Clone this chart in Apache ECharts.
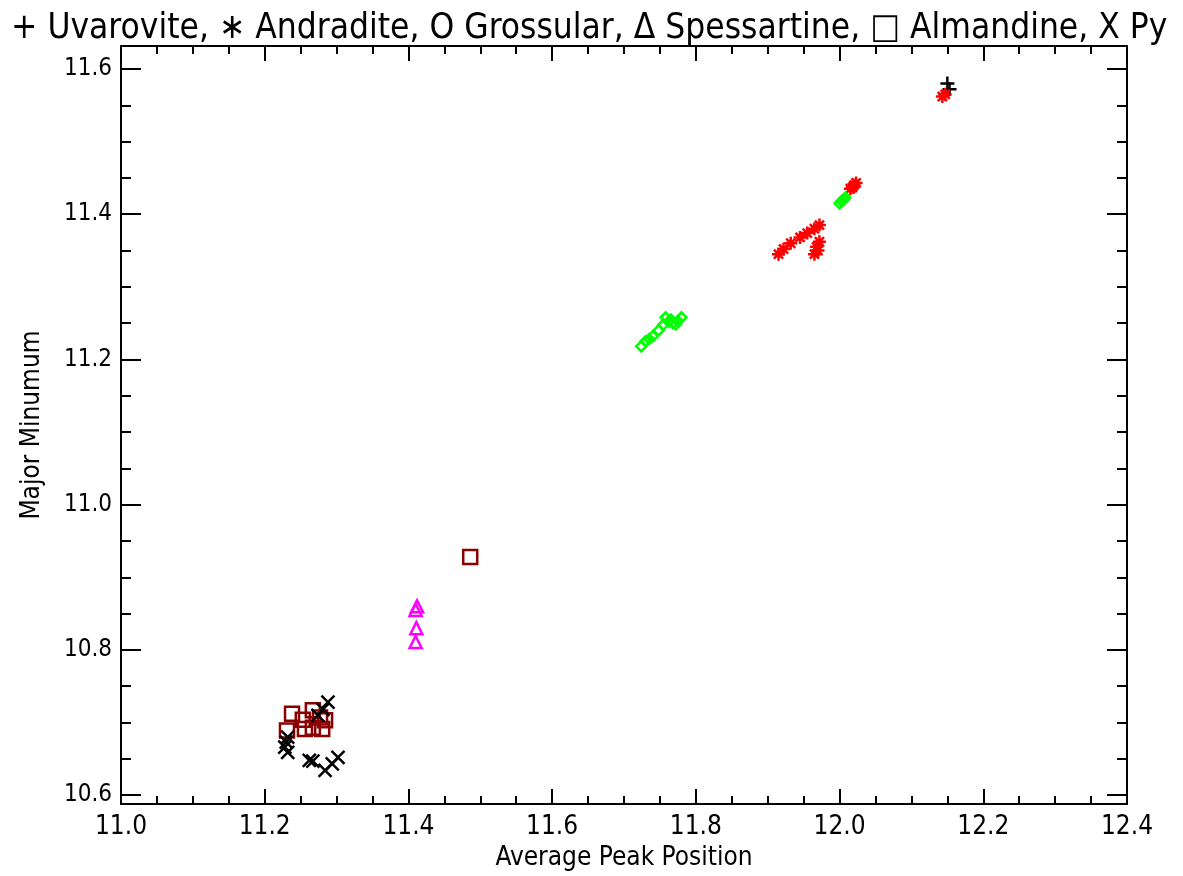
<!DOCTYPE html>
<html>
<head>
<meta charset="utf-8">
<script src="https://cdn.jsdelivr.net/npm/echarts@6/dist/echarts.min.js"></script>
<style>
  html, body { margin: 0; padding: 0; background: #ffffff; }
  #chart { width: 1183px; height: 876px; }
</style>
</head>
<body>
<div id="chart"></div>
<script>
// garnet data: [average peak position, major minimum]
const uvarovite = [[12.150, 11.580], [12.153, 11.572]];
const andradite = [
  [12.143, 11.562], [12.147, 11.565],
  [12.015, 11.435], [12.020, 11.440], [12.023, 11.443], [12.018, 11.437],
  [11.915, 11.345], [11.922, 11.352], [11.932, 11.360], [11.945, 11.368],
  [11.955, 11.374], [11.965, 11.380], [11.972, 11.385],
  [11.965, 11.345], [11.970, 11.350], [11.972, 11.362], [11.968, 11.355]
];
const grossular = [
  [11.724, 11.218], [11.730, 11.225], [11.735, 11.228], [11.740, 11.232],
  [11.748, 11.240], [11.755, 11.248], [11.758, 11.258], [11.762, 11.252],
  [11.768, 11.250], [11.772, 11.248], [11.775, 11.253], [11.780, 11.258],
  [11.765, 11.255],
  [12.000, 11.415], [12.003, 11.418], [12.006, 11.420], [12.008, 11.423]
];
const spessartine = [[11.410, 10.855], [11.412, 10.860], [11.411, 10.830], [11.410, 10.811]];
const almandine = [
  [11.486, 10.928],
  [11.238, 10.712], [11.231, 10.689], [11.253, 10.704], [11.256, 10.691],
  [11.267, 10.693], [11.280, 10.691], [11.267, 10.717], [11.277, 10.707],
  [11.284, 10.703]
];
const pyrope = [
  [11.288, 10.728], [11.281, 10.718], [11.274, 10.710],
  [11.232, 10.680], [11.230, 10.673], [11.228, 10.666], [11.232, 10.659],
  [11.262, 10.648], [11.267, 10.647], [11.284, 10.634], [11.294, 10.643],
  [11.302, 10.652]
];

const yMajor = [10.6, 10.8, 11.0, 11.2, 11.4, 11.6];
const yMinor = [10.65, 10.7, 10.75, 10.85, 10.9, 10.95, 11.05, 11.1, 11.15,
                11.25, 11.3, 11.35, 11.45, 11.5, 11.55];

const font = '"Liberation Sans Narrow", "DejaVu Sans Condensed", sans-serif';
const yMin = 10.5877, yMax = 11.6316;

const chart = echarts.init(document.getElementById('chart'));

function yAxisDef(pos, ticks, len, labels) {
  return {
    type: 'value', position: pos, min: yMin, max: yMax,
    axisLine: { show: true, lineStyle: { color: '#000', width: 2 } },
    axisTick: { show: true, inside: true, length: len, customValues: ticks,
                lineStyle: { color: '#000', width: 2 } },
    axisLabel: labels ? { show: true, customValues: ticks, color: '#000', fontSize: 24,
                          fontFamily: font, margin: 9, formatter: v => v.toFixed(1) }
                      : { show: false },
    splitLine: { show: false }
  };
}

function xAxisDef(pos, labels) {
  return {
    type: 'value', position: pos, min: 11.0, max: 12.4, interval: 0.2,
    axisLine: { show: true, lineStyle: { color: '#000', width: 2 } },
    axisTick: { show: true, inside: true, length: 15, lineStyle: { color: '#000', width: 2 } },
    minorTick: { show: true, splitNumber: 4, length: 8, lineStyle: { color: '#000', width: 2 } },
    axisLabel: labels ? { show: true, color: '#000', fontSize: 26, fontFamily: font, margin: 10,
                          formatter: v => v.toFixed(1) } : { show: false },
    splitLine: { show: false },
    minorSplitLine: { show: false }
  };
}

function sym(name, data, symbol, color, size) {
  return {
    name: name, type: 'scatter', data: data, symbol: symbol, symbolSize: size,
    itemStyle: { color: 'rgba(0,0,0,0)', borderColor: color, borderWidth: 2.5, opacity: 1 },
    emphasis: { disabled: true }
  };
}

const xBottom = xAxisDef('bottom', true);
xBottom.name = 'Average Peak Position';
xBottom.nameLocation = 'middle';
xBottom.nameGap = 40;
xBottom.nameTextStyle = { color: '#000', fontSize: 26, fontFamily: font };

const yLeft = yAxisDef('left', yMajor, 20, true);
yLeft.name = 'Major Minumum';
yLeft.nameLocation = 'middle';
yLeft.nameGap = 76;
yLeft.nameTextStyle = { color: '#000', fontSize: 26, fontFamily: font };

chart.setOption({
  backgroundColor: '#ffffff',
  animation: false,
  title: {
    text: '+ Uvarovite, \u2217 Andradite, O Grossular, \u0394 Spessartine, \u25A1 Almandine, X Py',
    left: 6, top: 6,
    textStyle: { color: '#000', fontSize: 35, fontWeight: 'normal', fontFamily: font }
  },
  grid: { left: 121, right: 56, top: 46, bottom: 69 },
  xAxis: [xBottom, xAxisDef('top', false)],
  yAxis: [
    yLeft,
    yAxisDef('left', yMinor, 10, false),
    yAxisDef('right', yMajor, 20, false),
    yAxisDef('right', yMinor, 10, false)
  ],
  series: [
    sym('Uvarovite', uvarovite, 'path://M0,5L10,5M5,0L5,10', '#000000', 14),
    sym('Andradite', andradite, 'path://M0,5L10,5M5,0L5,10M1.5,1.5L8.5,8.5M8.5,1.5L1.5,8.5', '#ff0000', 13),
    sym('Grossular', grossular, 'path://M5,0L10,5L5,10L0,5Z', '#00ff00', 10),
    sym('Spessartine', spessartine, 'path://M5,0L10,9L0,9Z', '#ff00ff', 12),
    sym('Almandine', almandine, 'path://M0,0L10,0L10,10L0,10Z', '#8b0000', 14),
    sym('Pyrope', pyrope, 'path://M0,0L10,10M10,0L0,10', '#000000', 13)
  ]
});
</script>
</body>
</html>
